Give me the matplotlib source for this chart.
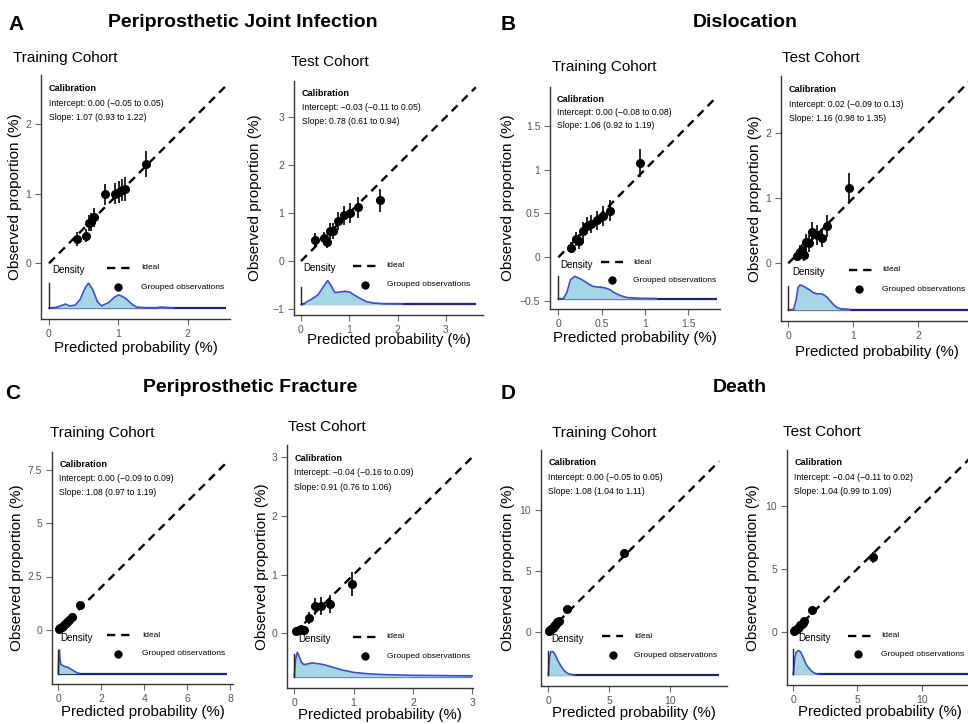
import matplotlib.pyplot as plt
import numpy as np

plt.rcParams['font.family'] = ['Liberation Sans', 'DejaVu Sans']

W, H = 968, 724

# ---------------- values (all in %) ----------------
# A - periprosthetic joint infection
pji_tr_pred = [0.40, 0.53, 0.57, 0.61, 0.65, 0.81, 0.95, 1.01, 1.05, 1.10, 1.40]
pji_tr_obs = [0.35, 0.40, 0.58, 0.60, 0.66, 0.99, 1.00, 1.03, 1.05, 1.07, 1.43]
pji_tr_err = [0.10, 0.10, 0.12, 0.13, 0.14, 0.15, 0.15, 0.16, 0.16, 0.17, 0.19]
pji_tr_dx = [0, 0.10, 0.18, 0.24, 0.30, 0.38, 0.45, 0.52, 0.57, 0.63, 0.70, 0.76,
             0.86, 0.95, 1.01, 1.10, 1.20, 1.27, 1.40, 1.55, 1.62, 1.70, 1.80]
pji_tr_dh = [0, 0.02, 0.10, 0.16, 0.08, 0.12, 0.35, 0.80, 1.00, 0.75, 0.25, 0.09,
             0.22, 0.45, 0.53, 0.40, 0.15, 0.03, 0.01, 0.01, 0.04, 0.02, 0.0]

pji_te_pred = [0.30, 0.47, 0.53, 0.60, 0.67, 0.77, 0.90, 1.02, 1.18, 1.63]
pji_te_obs = [0.44, 0.47, 0.40, 0.63, 0.62, 0.84, 0.95, 1.00, 1.12, 1.27]
pji_te_err = [0.14, 0.14, 0.13, 0.17, 0.17, 0.19, 0.20, 0.21, 0.22, 0.24]
pji_te_dx = [0, 0.05, 0.12, 0.20, 0.28, 0.35, 0.45, 0.55, 0.62, 0.70, 0.80, 0.90,
             1.00, 1.10, 1.20, 1.35, 1.50, 1.70, 2.10]
pji_te_dh = [0, 0.0, 0.12, 0.20, 0.30, 0.40, 0.70, 1.00, 0.80, 0.50, 0.52, 0.55,
             0.53, 0.40, 0.28, 0.12, 0.06, 0.03, 0.02]

# B - dislocation
dis_tr_pred = [0.15, 0.20, 0.24, 0.28, 0.33, 0.38, 0.45, 0.52, 0.60, 0.94]
dis_tr_obs = [0.11, 0.21, 0.18, 0.30, 0.36, 0.38, 0.42, 0.47, 0.53, 1.07]
dis_tr_err = [0.06, 0.08, 0.08, 0.10, 0.10, 0.10, 0.11, 0.11, 0.12, 0.16]
dis_tr_dx = [0, 0.06, 0.10, 0.14, 0.19, 0.25, 0.30, 0.35, 0.40, 0.45, 0.50, 0.55,
             0.60, 0.65, 0.70, 0.75, 0.80, 0.95, 1.13]
dis_tr_dh = [0, 0.02, 0.30, 0.85, 1.00, 0.90, 0.79, 0.66, 0.56, 0.53, 0.52, 0.48,
             0.40, 0.27, 0.18, 0.11, 0.06, 0.03, 0.02]

dis_te_pred = [0.13, 0.18, 0.21, 0.24, 0.27, 0.32, 0.37, 0.44, 0.52, 0.60, 0.93]
dis_te_obs = [0.11, 0.18, 0.20, 0.12, 0.32, 0.31, 0.48, 0.43, 0.39, 0.57, 1.15]
dis_te_err = [0.08, 0.10, 0.10, 0.08, 0.13, 0.13, 0.16, 0.15, 0.14, 0.17, 0.24]
dis_te_dx = [0, 0.08, 0.12, 0.15, 0.18, 0.22, 0.28, 0.33, 0.38, 0.43, 0.50, 0.55,
             0.60, 0.65, 0.70, 0.75, 0.80, 0.95]
dis_te_dh = [0, 0.02, 0.40, 0.90, 1.00, 0.97, 0.88, 0.80, 0.70, 0.65, 0.65, 0.60,
             0.50, 0.35, 0.20, 0.10, 0.05, 0.02]

# C - periprosthetic fracture
fra_tr_pred = [0.02, 0.08, 0.15, 0.22, 0.30, 0.40, 0.50, 0.62, 1.00]
fra_tr_obs = [0.03, 0.08, 0.12, 0.20, 0.28, 0.38, 0.48, 0.60, 1.15]
fra_tr_err = [0.03, 0.05, 0.06, 0.08, 0.10, 0.11, 0.13, 0.15, 0.20]
fra_tr_dx = [0, 0.02, 0.05, 0.08, 0.12, 0.20, 0.30, 0.45, 0.60, 0.75, 0.90, 1.00]
fra_tr_dh = [0, 0.70, 1.00, 0.60, 0.38, 0.34, 0.30, 0.26, 0.18, 0.10, 0.02, 0.0]

fra_te_pred = [0.03, 0.08, 0.12, 0.17, 0.25, 0.35, 0.45, 0.60, 0.98]
fra_te_obs = [0.04, 0.06, 0.07, 0.06, 0.26, 0.46, 0.46, 0.50, 0.84]
fra_te_err = [0.03, 0.04, 0.04, 0.04, 0.10, 0.14, 0.15, 0.15, 0.20]
fra_te_dx = [0, 0.02, 0.05, 0.08, 0.12, 0.16, 0.20, 0.30, 0.40, 0.50, 0.60, 0.70,
             0.80, 0.90, 1.00, 1.20, 1.50, 2.00, 3.00]
fra_te_dh = [0, 0.70, 1.00, 0.85, 0.60, 0.50, 0.52, 0.57, 0.54, 0.50, 0.43, 0.36,
             0.29, 0.24, 0.19, 0.14, 0.10, 0.07, 0.05]

# D - death
dea_tr_pred = [0.05, 0.15, 0.25, 0.35, 0.45, 0.55, 0.65, 0.75, 0.85, 1.50, 6.20]
dea_tr_obs = [0.05, 0.12, 0.22, 0.33, 0.45, 0.55, 0.66, 0.78, 0.90, 1.85, 6.45]
dea_tr_err = [0.05, 0.07, 0.08, 0.09, 0.10, 0.11, 0.12, 0.13, 0.14, 0.25, 0.35]
dea_tr_dx = [0, 0.10, 0.20, 0.30, 0.45, 0.60, 0.80, 1.00, 1.20, 1.40, 1.60, 2.00, 2.20]
dea_tr_dh = [0, 0.75, 0.97, 1.00, 0.95, 0.82, 0.60, 0.42, 0.27, 0.15, 0.08, 0.02, 0.0]

dea_te_pred = [0.05, 0.15, 0.25, 0.35, 0.45, 0.55, 0.65, 0.75, 0.85, 1.45, 6.20]
dea_te_obs = [0.03, 0.12, 0.20, 0.30, 0.40, 0.52, 0.62, 0.72, 0.85, 1.70, 5.90]
dea_te_err = [0.05, 0.07, 0.08, 0.09, 0.10, 0.11, 0.12, 0.13, 0.15, 0.25, 0.45]
dea_te_dx = [0, 0.10, 0.20, 0.40, 0.55, 0.70, 0.85, 1.00, 1.20, 1.40, 1.60, 1.80, 2.00]
dea_te_dh = [0, 0.60, 0.90, 1.00, 0.95, 0.80, 0.62, 0.42, 0.27, 0.15, 0.07, 0.02, 0.0]

# end of the ideal line / density baseline
ideal_max = [2.55, 3.62, 1.83, 2.85, 7.85, 3.0, 14.0, 14.0]

intercepts = ['0.00 (\u22120.05 to 0.05)', '\u22120.03 (\u22120.11 to 0.05)',
              '0.00 (\u22120.08 to 0.08)', '0.02 (\u22120.09 to 0.13)',
              '0.00 (\u22120.09 to 0.09)', '\u22120.04 (\u22120.16 to 0.09)',
              '0.00 (\u22120.05 to 0.05)', '\u22120.04 (\u22120.11 to 0.02)']
slopes = ['1.07 (0.93 to 1.22)', '0.78 (0.61 to 0.94)',
          '1.06 (0.92 to 1.19)', '1.16 (0.98 to 1.35)',
          '1.08 (0.97 to 1.19)', '0.91 (0.76 to 1.06)',
          '1.08 (1.04 to 1.11)', '1.04 (0.99 to 1.09)']

xticks = [[0, 1, 2], [0, 1, 2, 3], [0, 0.5, 1, 1.5], [0, 1, 2],
          [0, 2, 4, 6, 8], [0, 1, 2, 3], [0, 5, 10], [0, 5, 10]]
xticklabels = [['0', '1', '2'], ['0', '1', '2', '3'], ['0', '0.5', '1', '1.5'], ['0', '1', '2'],
               ['0', '2', '4', '6', '8'], ['0', '1', '2', '3'], ['0', '5', '10'], ['0', '5', '10']]
yticks = [[0, 1, 2], [-1, 0, 1, 2, 3], [-0.5, 0, 0.5, 1, 1.5], [0, 1, 2],
          [0, 2.5, 5, 7.5], [0, 1, 2, 3], [0, 5, 10], [0, 5, 10]]
yticklabels = [['0', '1', '2'], ['\u22121', '0', '1', '2', '3'],
               ['\u22120.5', '0', '0.5', '1', '1.5'], ['0', '1', '2'],
               ['0', '2.5', '5', '7.5'], ['0', '1', '2', '3'], ['0', '5', '10'], ['0', '5', '10']]

cohorts = ['Training Cohort', 'Test Cohort'] * 4
letters = ['A', 'B', 'C', 'D']
outcomes = ['Periprosthetic Joint Infection', 'Dislocation',
            'Periprosthetic Fracture', 'Death']

series = [
    (pji_tr_pred, pji_tr_obs, pji_tr_err, pji_tr_dx, pji_tr_dh),
    (pji_te_pred, pji_te_obs, pji_te_err, pji_te_dx, pji_te_dh),
    (dis_tr_pred, dis_tr_obs, dis_tr_err, dis_tr_dx, dis_tr_dh),
    (dis_te_pred, dis_te_obs, dis_te_err, dis_te_dx, dis_te_dh),
    (fra_tr_pred, fra_tr_obs, fra_tr_err, fra_tr_dx, fra_tr_dh),
    (fra_te_pred, fra_te_obs, fra_te_err, fra_te_dx, fra_te_dh),
    (dea_tr_pred, dea_tr_obs, dea_tr_err, dea_tr_dx, dea_tr_dh),
    (dea_te_pred, dea_te_obs, dea_te_err, dea_te_dx, dea_te_dh),
]

# ---------------- layout (pixels) ----------------
# axes box: left, right, top, bottom ; scale: x0 px, px per unit, y0 px, px per unit
boxes = [(41, 230, 75, 319), (294, 483, 81, 315), (550, 720, 87, 309), (781, 972, 76, 321),
         (52, 233, 452, 684), (287, 473, 445, 688), (541, 727, 450, 686), (787, 972, 450, 685)]
scales = [(49, 69.3, 263.3, 69.5), (301, 48.3, 261, 48), (558.3, 86.7, 257.3, 87.8),
          (788.3, 65, 263.3, 65.3), (58.3, 21.5, 630, 21.4), (294.3, 59.3, 633.3, 58.7),
          (548.3, 12.2, 631.7, 12.17), (793.3, 12.84, 631.7, 12.6)]
# legend x positions (axes fraction): Density text, dash start, dash end, marker, text
legend_x = [(0.058, 0.35, 0.47, 0.41, 0.53), (0.048, 0.31, 0.44, 0.376, 0.49),
            (0.059, 0.30, 0.43, 0.363, 0.49), (0.058, 0.355, 0.48, 0.41, 0.53),
            (0.046, 0.306, 0.43, 0.367, 0.496), (0.062, 0.355, 0.48, 0.419, 0.536),
            (0.053, 0.327, 0.44, 0.386, 0.50), (0.06, 0.33, 0.46, 0.386, 0.51)]
vline_h = [1.0, 0.75, 1.0, 0.95, 1.0, 0.93, 1.0, 1.05]
title_pos = [(13, 58), (291, 62), (552, 67), (782, 58),
             (50, 433), (288, 427), (552, 433), (783, 432)]
ylab_x = [15, 255, 508, 755, 17, 262, 508, 753]
xlab_y = [348, 340, 338, 352, 712, 715, 713, 712]
letter_pos = [(16, 30), (508, 30), (13, 399), (508, 399)]
outcome_pos = [(243, 27), (745, 27), (250, 392), (740, 392)]

fig = plt.figure(figsize=(W / 100, H / 100), dpi=100)

for i, (pred, obs, err, dx, dh) in enumerate(series):
    l, r, t, b = boxes[i]
    x0, xs, y0, ys = scales[i]
    ax = fig.add_axes([l / W, 1 - b / H, (r - l) / W, (b - t) / H])
    ax.set_xlim((l - x0) / xs, (r - x0) / xs)
    ax.set_ylim((y0 - b) / ys, (y0 - t) / ys)
    ax.patch.set_alpha(0)
    for s in ('top', 'right'):
        ax.spines[s].set_visible(False)
    for s in ('left', 'bottom'):
        ax.spines[s].set_color('#333333')
        ax.spines[s].set_linewidth(1.0)
    ax.set_xticks(xticks[i])
    ax.set_xticklabels(xticklabels[i])
    ax.set_yticks(yticks[i])
    ax.set_yticklabels(yticklabels[i])
    ax.tick_params(direction='out', length=4, width=0.8, color='#666666',
                   labelcolor='#555555', labelsize=7.5, pad=3)

    ylo, yhi = ax.get_ylim()
    span = yhi - ylo
    base = ylo + 0.045 * span
    top = ylo + 0.147 * span
    m = ideal_max[i]

    # density strip at the bottom
    dy = base + np.array(dh) * (top - base)
    ax.plot([0, m], [base, base], color='#22226e', lw=1.6, solid_capstyle='butt', zorder=2)
    ax.fill_between(dx, base, dy, color='#a6d6e6', lw=0, zorder=2)
    ax.plot(dx, dy, color='#3f4fc6', lw=1.2, zorder=3)
    ax.plot([0, 0], [base, base + vline_h[i] * (top - base)], color='#222222', lw=1.0, zorder=3)

    # ideal line
    ax.plot([0, m], [0, m], color='black', lw=1.7, ls=(0, (3.5, 2.5)), zorder=4)

    # grouped observations
    pred = np.array(pred)
    obs = np.array(obs)
    err = np.array(err)
    ax.vlines(pred, obs - err, obs + err, color='black', lw=1.2, zorder=5)
    ax.plot(pred, obs, 'o', color='black', ms=5.5, zorder=6)

    # legend
    tx, d0, d1, mx, lx = legend_x[i]
    ax.text(tx, 0.20, 'Density', transform=ax.transAxes, fontsize=7, va='center')
    ax.plot([d0, d1], [0.21, 0.21], transform=ax.transAxes, color='black', lw=1.7,
            ls=(0, (3.5, 2.5)))
    ax.text(lx, 0.21, 'Ideal', transform=ax.transAxes, fontsize=6, va='center')
    ax.plot([mx], [0.13], 'o', transform=ax.transAxes, color='black', ms=5)
    ax.text(lx, 0.13, 'Grouped observations', transform=ax.transAxes, fontsize=6,
            va='center')

    # calibration stats
    ax.text(0.04, 0.945, 'Calibration', transform=ax.transAxes, fontsize=6.6,
            fontweight='bold', va='center')
    ax.text(0.04, 0.885, 'Intercept: ' + intercepts[i], transform=ax.transAxes,
            fontsize=6.2, va='center')
    ax.text(0.04, 0.825, 'Slope: ' + slopes[i], transform=ax.transAxes,
            fontsize=6.2, va='center')

    # titles and axis labels
    px, py = title_pos[i]
    fig.text(px / W, 1 - py / H, cohorts[i], fontsize=11, va='center', ha='left')
    fig.text(ylab_x[i] / W, 1 - (t + b) / 2 / H, 'Observed proportion (%)',
             rotation=90, fontsize=11, va='center', ha='center')
    fig.text((l + r) / 2 / W, 1 - xlab_y[i] / H, 'Predicted probability (%)',
             fontsize=10.8, va='center', ha='center')

for k in range(4):
    lx_, ly_ = letter_pos[k]
    fig.text(lx_ / W, 1 - ly_ / H, letters[k], fontsize=15, fontweight='bold',
             ha='center', va='baseline')
    ox, oy = outcome_pos[k]
    fig.text(ox / W, 1 - oy / H, outcomes[k], fontsize=14, fontweight='bold',
             ha='center', va='baseline')

fig.savefig('out.png', dpi=100, facecolor='white')
